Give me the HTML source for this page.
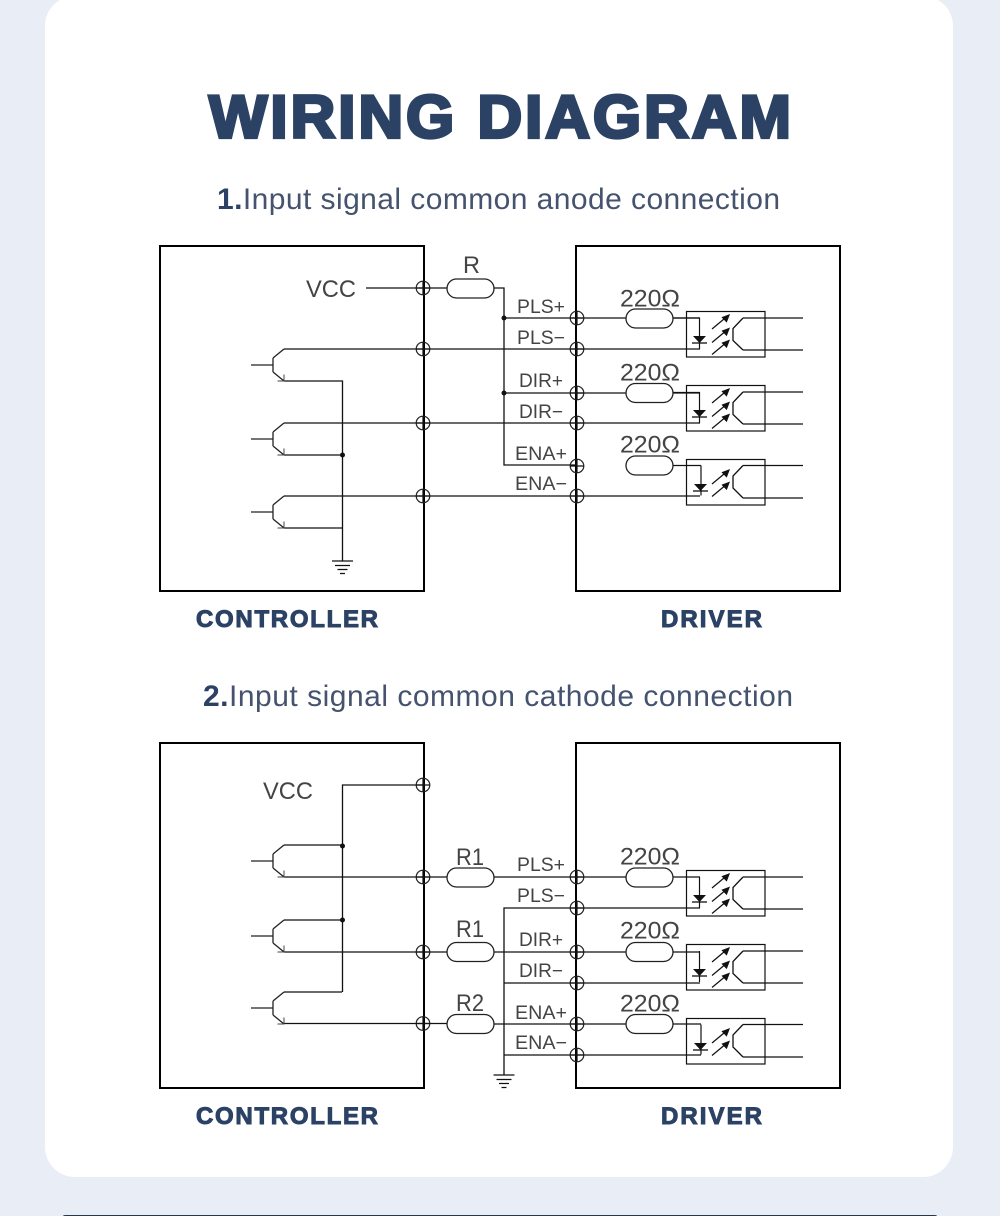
<!DOCTYPE html>
<html><head><meta charset="utf-8"><style>
html,body{margin:0;padding:0;width:1000px;height:1216px;overflow:hidden;background:#e9edf5}
svg{display:block}
text{font-family:"Liberation Sans",sans-serif}
.l{fill:#444;font-size:19px}
.v{fill:#444;font-size:24.500px}
.t{fill:#45536e;font-size:30px}
.h{fill:#2b4265;font-weight:bold;font-size:24px;stroke:#2b4265;stroke-width:1}
</style></head><body>
<svg width="1000" height="1216" viewBox="0 0 1000 1216" xmlns="http://www.w3.org/2000/svg">
<defs>
<g id="c"><circle r="6.800" fill="none" stroke="#222" stroke-width="1.200"/><path d="M-7 0H7M0-7V7" stroke="#111" stroke-width="1.200"/></g>
<g id="res"><rect x="0" y="-9.500" width="47" height="19" rx="9.500" fill="#fff" stroke="#222" stroke-width="1.300"/></g>
<g id="q" fill="none" stroke="#111" stroke-width="1.300"><path d="M251 16H273M273 9V23M273 9L284 0M273 23L284 32" stroke="#222"/><path d="M277.500 32H284V25.500" stroke="#444" stroke-width="1"/></g>
<g id="gnd" stroke="#111" stroke-width="1.300"><path d="M-10.500 0H10.500M-7.500 4.500H7.500M-5 8.500H5M-2.500 12.500H2.500"/></g>
<g id="arr"><path d="M0 0L15-12.500" stroke="#111" stroke-width="1.200" fill="none"/><path d="M17-14L10.500-11.500L14.500-7.500Z" fill="#111"/></g>
<g id="opto3" fill="none" stroke="#111" stroke-width="1.200">
<rect x="686.500" y="-6.500" width="78.500" height="45.500"/>
<path d="M699.500 0V31"/>
<path d="M693 18H706L699.500 25Z" fill="#111" stroke="none"/>
<path d="M692 25H707" stroke-width="1.300"/>
<use href="#arr" x="712" y="11"/><use href="#arr" x="712" y="24.500"/><use href="#arr" x="712" y="36.500"/>
<path d="M743 0H803M743 32H803M743 0L733 10.500V22.500L743 32" stroke-width="1.300"/>
</g>
<g id="opto2" fill="none" stroke="#111" stroke-width="1.200">
<rect x="686.500" y="-6" width="78.500" height="45.500"/>
<path d="M701 0V30"/>
<path d="M694 18.500H707L700.500 25.500Z" fill="#111" stroke="none"/>
<path d="M693 25.500H708" stroke-width="1.300"/>
<use href="#arr" x="712" y="18.500"/><use href="#arr" x="712" y="31"/>
<path d="M743 0H803M743 32.500H803M743 0L733 10.500V22.500L743 32.500" stroke-width="1.300"/>
</g>
<g id="drv">
<use href="#opto3" y="318"/><use href="#opto3" y="392"/><use href="#opto2" y="465.500"/>
</g>
</defs>
<rect width="1000" height="1216" fill="#e9edf5"/>
<rect x="45" y="-4" width="908" height="1181" rx="30" fill="#fff"/>
<rect x="62" y="1215" width="876" height="6" rx="3" fill="#24394f"/>
<text x="209" y="137.500" font-size="60" font-weight="bold" fill="#2b4265" stroke="#2b4265" stroke-width="3.200" stroke-linejoin="miter" letter-spacing="3" textLength="585" lengthAdjust="spacingAndGlyphs">WIRING DIAGRAM</text>
<text class="t" x="217" y="209" textLength="563"><tspan font-weight="bold" fill="#2b4265">1.</tspan>Input signal common anode connection</text>
<text class="t" x="203" y="706" textLength="590"><tspan font-weight="bold" fill="#2b4265">2.</tspan>Input signal common cathode connection</text>

<!-- Diagram 1 -->
<g fill="none" stroke="#000" stroke-width="2"><rect x="160" y="246" width="264" height="345"/><rect x="576" y="246" width="264" height="345"/></g>
<g fill="none" stroke="#111" stroke-width="1.300">
<path d="M366 288H447M494 288H504V465H577M504 318H700M504 393H700"/>
<path d="M284 349H700M284 423H700M284 496H700"/>
<path d="M284 381H342.500V561M284 455H342M284 528H342"/>
<path d="M673 318H700M673 392.500H700M673 465.500H701"/>
</g>
<use href="#q" y="349"/><use href="#q" y="423"/><use href="#q" y="496"/>
<use href="#gnd" x="342.500" y="561"/>
<circle cx="342.500" cy="455" r="2.500" fill="#111"/><circle cx="504" cy="318" r="2.500" fill="#111"/><circle cx="504" cy="393" r="2.500" fill="#111"/>
<use href="#res" x="447" y="288.500"/>
<use href="#res" x="626" y="318.500"/><use href="#res" x="626" y="393"/><use href="#res" x="626" y="465.500"/>
<use href="#c" x="423" y="288"/><use href="#c" x="423" y="349"/><use href="#c" x="423" y="423"/><use href="#c" x="423" y="496"/>
<use href="#c" x="577" y="318"/><use href="#c" x="577" y="349"/><use href="#c" x="577" y="393"/><use href="#c" x="577" y="423"/><use href="#c" x="577" y="466"/><use href="#c" x="577" y="496"/>
<use href="#drv"/>
<text class="v" x="306" y="297" textLength="50" lengthAdjust="spacingAndGlyphs">VCC</text>
<text class="v" x="463" y="273" textLength="17" lengthAdjust="spacingAndGlyphs">R</text>
<text class="v" x="620" y="306.500" textLength="60" lengthAdjust="spacingAndGlyphs">220Ω</text><text class="v" x="620" y="380.500" textLength="60" lengthAdjust="spacingAndGlyphs">220Ω</text><text class="v" x="620" y="452.500" textLength="60" lengthAdjust="spacingAndGlyphs">220Ω</text>
<text class="l" x="517" y="313" textLength="48" lengthAdjust="spacingAndGlyphs">PLS+</text><text class="l" x="517" y="344" textLength="48" lengthAdjust="spacingAndGlyphs">PLS−</text>
<text class="l" x="519" y="387" textLength="44" lengthAdjust="spacingAndGlyphs">DIR+</text><text class="l" x="519" y="418" textLength="44" lengthAdjust="spacingAndGlyphs">DIR−</text>
<text class="l" x="515" y="460" textLength="52" lengthAdjust="spacingAndGlyphs">ENA+</text><text class="l" x="515" y="490" textLength="52" lengthAdjust="spacingAndGlyphs">ENA−</text>
<text class="h" x="196" y="627" textLength="182">CONTROLLER</text>
<text class="h" x="661" y="627" textLength="101">DRIVER</text>

<!-- Diagram 2 -->
<g fill="none" stroke="#000" stroke-width="2"><rect x="160" y="743" width="264" height="345"/><rect x="576" y="743" width="264" height="345"/></g>
<g fill="none" stroke="#111" stroke-width="1.300">
<path d="M423 785H342.500V992M284 845H342M284 920H342M284 992H342"/>
<path d="M284 877H447M284 952H447M284 1023.500H447"/>
<path d="M494 877H700M494 952H700M494 1024H701"/>
<path d="M504 1075V908H700M504 983H700M504 1055H701M504 1024V1075"/>
</g>
<use href="#q" y="845"/><use href="#q" y="920"/><use href="#q" y="992"/>
<use href="#gnd" x="504" y="1075"/>
<circle cx="342.500" cy="846" r="2.500" fill="#111"/><circle cx="342.500" cy="920" r="2.500" fill="#111"/>
<use href="#res" x="447" y="877.500"/><use href="#res" x="447" y="952"/><use href="#res" x="447" y="1024"/>
<use href="#res" x="626" y="877.500"/><use href="#res" x="626" y="952"/><use href="#res" x="626" y="1024"/>
<use href="#c" x="423" y="785"/><use href="#c" x="423" y="877"/><use href="#c" x="423" y="952"/><use href="#c" x="423" y="1023.500"/>
<use href="#c" x="577" y="877"/><use href="#c" x="577" y="908"/><use href="#c" x="577" y="952"/><use href="#c" x="577" y="983"/><use href="#c" x="577" y="1024"/><use href="#c" x="577" y="1055"/>
<use href="#drv" y="559"/>
<text class="v" x="263" y="799" textLength="50" lengthAdjust="spacingAndGlyphs">VCC</text>
<text class="v" x="456" y="865" textLength="28" lengthAdjust="spacingAndGlyphs">R1</text><text class="v" x="456" y="937" textLength="28" lengthAdjust="spacingAndGlyphs">R1</text><text class="v" x="456" y="1011" textLength="28" lengthAdjust="spacingAndGlyphs">R2</text>
<text class="v" x="620" y="864.500" textLength="60" lengthAdjust="spacingAndGlyphs">220Ω</text><text class="v" x="620" y="938.500" textLength="60" lengthAdjust="spacingAndGlyphs">220Ω</text><text class="v" x="620" y="1011.500" textLength="60" lengthAdjust="spacingAndGlyphs">220Ω</text>
<text class="l" x="517" y="871" textLength="48" lengthAdjust="spacingAndGlyphs">PLS+</text><text class="l" x="517" y="902" textLength="48" lengthAdjust="spacingAndGlyphs">PLS−</text>
<text class="l" x="519" y="946" textLength="44" lengthAdjust="spacingAndGlyphs">DIR+</text><text class="l" x="519" y="977" textLength="44" lengthAdjust="spacingAndGlyphs">DIR−</text>
<text class="l" x="515" y="1019" textLength="52" lengthAdjust="spacingAndGlyphs">ENA+</text><text class="l" x="515" y="1049" textLength="52" lengthAdjust="spacingAndGlyphs">ENA−</text>
<text class="h" x="196" y="1124" textLength="182">CONTROLLER</text>
<text class="h" x="661" y="1124" textLength="101">DRIVER</text>
</svg>
</body></html>
